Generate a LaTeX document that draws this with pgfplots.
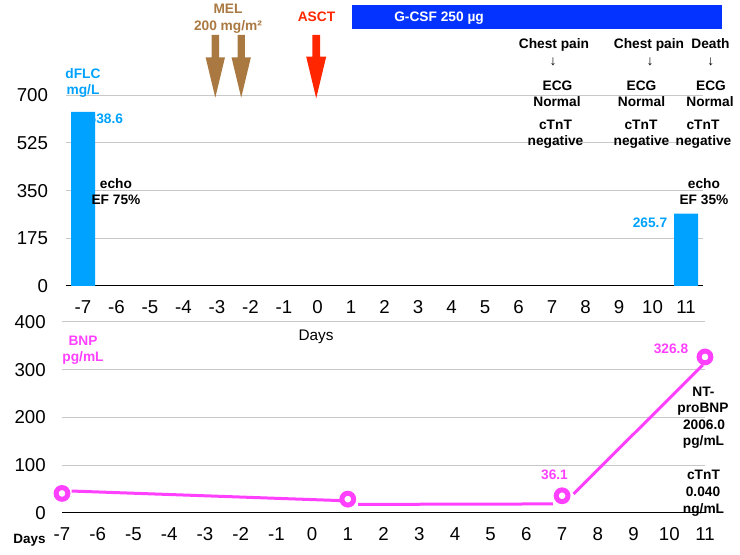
\documentclass[border=0pt]{standalone}
\usepackage{pgfplots}
\pgfplotsset{compat=1.18}
\usepackage{fontspec}
\setmainfont{Liberation Sans}
\definecolor{flc}{HTML}{00A2FF}
\definecolor{bnp}{HTML}{FF40FF}
\definecolor{mel}{HTML}{AA7942}
\definecolor{asct}{HTML}{FF2600}
\definecolor{gcsf}{HTML}{0433FF}
\definecolor{gridc}{HTML}{C8C8C8}
\tikzset{ann/.style={font=\bfseries\fontsize{10.3}{12}\selectfont, inner sep=0pt, anchor=base}}
\pgfplotsset{
  panel/.style={
    anchor=south west, scale only axis, clip=false,
    axis x line*=bottom, axis y line*=left,
    y axis line style={draw=none},
    x axis line style={black, line width=0.75pt},
    major tick length=0pt, tick style={draw=none},
    ymajorgrids, grid style={gridc, line width=0.75pt},
    tick label style={font=\fontsize{14}{16}\selectfont},
    /pgf/number format/assume math mode=true,
    xtick={-7,...,11},
  }
}
\begin{document}
\begin{tikzpicture}
\useasboundingbox (0,0) rectangle (555pt,-416.25pt);
% top panel: dFLC
\begin{axis}[panel,
  at={(49.69pt,-214.5pt)}, width=477.4pt, height=143.1pt,
  xmin=-7.5, xmax=11.5, ymin=0, ymax=700,
  ytick={0,175,350,525,700},
  yticklabel style={anchor=east, inner sep=0pt, xshift=-13.5pt},
  xticklabel style={anchor=north, inner sep=0pt, yshift=-10.5pt},
]
\addplot[ybar, bar width=18pt, fill=flc, draw=none] coordinates {(-7,638.6) (11,265.7)};
\end{axis}
% bottom panel: BNP
\begin{axis}[panel,
  at={(46.5pt,-384.75pt)}, width=482.25pt, height=143.25pt,
  xmin=-7, xmax=11, ymin=0, ymax=400,
  ytick={0,100,200,300,400},
  yticklabel style={anchor=east, inner sep=0pt, xshift=-12pt},
  xticklabel style={anchor=north, inner sep=0pt, yshift=-10.7pt},
]
\addplot[bnp, line width=2.25pt] coordinates {(-6.73,46) (0.78,26)};
\addplot[bnp, line width=2.25pt] coordinates {(1.29,18) (6.74,19)};
\addplot[bnp, line width=2.25pt] coordinates {(7.32,40) (10.94,310)};
\addplot[only marks, mark=*, mark size=4.4pt, mark options={draw=bnp, fill=white, line width=3.75pt}]
  coordinates {(-7,41) (1,29) (7,36.1) (11,326.8)};
\end{axis}
\begin{scope}[x=0.75pt, y=-0.75pt]
% treatment arrows
\fill[mel] (211.6,35) -- (219,35) -- (219,57.3) -- (225,57.3) -- (215.3,97.7) -- (205.6,57.3) -- (211.6,57.3) -- cycle;
\fill[mel] (237.5,35) -- (244.9,35) -- (244.9,57.3) -- (250.9,57.3) -- (241.2,97.7) -- (231.5,57.3) -- (237.5,57.3) -- cycle;
\fill[asct] (312.4,35) -- (320,35) -- (320,56.7) -- (326.2,56.7) -- (316.2,98.3) -- (306.2,56.7) -- (312.4,56.7) -- cycle;
\node[ann, mel] at (228,14) {MEL};
\node[ann, mel] at (228,30.7) {200 mg/m²};
\node[ann, asct] at (316.5,22) {ASCT};
\fill[gcsf] (352,5) rectangle (722,29);
\node[ann, white, anchor=base west] at (394,22) {G-CSF 250 µg};
% dFLC labels
\node[ann, flc] at (83,79) {dFLC};
\node[ann, flc] at (83,94.3) {mg/L};
\node[ann, flc] at (105.8,124) {638.6};
\node[ann] at (116,188.3) {echo};
\node[ann] at (116,205) {EF 75\%};
\node[ann] at (704,188.3) {echo};
\node[ann] at (704,205) {EF 35\%};
\node[ann, flc] at (650,227.3) {265.7};
% events
\node[ann] at (554,48.3) {Chest pain};
\node[font=\fontsize{10.3}{12}\selectfont, inner sep=0pt] at (553,61.5) {↓};
\node[ann] at (557.5,90.7) {ECG};
\node[ann] at (557,106.7) {Normal};
\node[ann] at (555.5,130) {cTnT};
\node[ann] at (555.5,145.7) {negative};
\node[ann] at (649,48.3) {Chest pain};
\node[font=\fontsize{10.3}{12}\selectfont, inner sep=0pt] at (650,61.5) {↓};
\node[ann] at (641.5,90.7) {ECG};
\node[ann] at (641.5,106.7) {Normal};
\node[ann] at (641,130) {cTnT};
\node[ann] at (641.5,145.7) {negative};
\node[ann] at (710.5,48.3) {Death};
\node[font=\fontsize{10.3}{12}\selectfont, inner sep=0pt] at (710.7,61.5) {↓};
\node[ann] at (711,90.7) {ECG};
\node[ann] at (710,106.7) {Normal};
\node[ann] at (703,130) {cTnT};
\node[ann] at (703.5,145.7) {negative};
% x label of top panel
\node[font=\fontsize{11.5}{13}\selectfont, inner sep=0pt, anchor=base] at (316,340.7) {Days};
% BNP labels
\node[ann, bnp] at (83,345.7) {BNP};
\node[ann, bnp] at (83,361.7) {pg/mL};
\node[ann, bnp] at (671,354) {326.8};
\node[ann, bnp] at (554.5,479.3) {36.1};
\node[ann] at (703.5,396.7) {NT-};
\node[ann] at (703,412.7) {proBNP};
\node[ann] at (704,430) {2006.0};
\node[ann] at (703.5,446) {pg/mL};
\node[ann] at (703.5,480) {cTnT};
\node[ann] at (703,496.7) {0.040};
\node[ann] at (703.5,513.3) {ng/mL};
\node[font=\bfseries\fontsize{10.1}{12}\selectfont, inner sep=0pt, anchor=base] at (29.5,543.3) {Days};
\end{scope}
\end{tikzpicture}
\end{document}
